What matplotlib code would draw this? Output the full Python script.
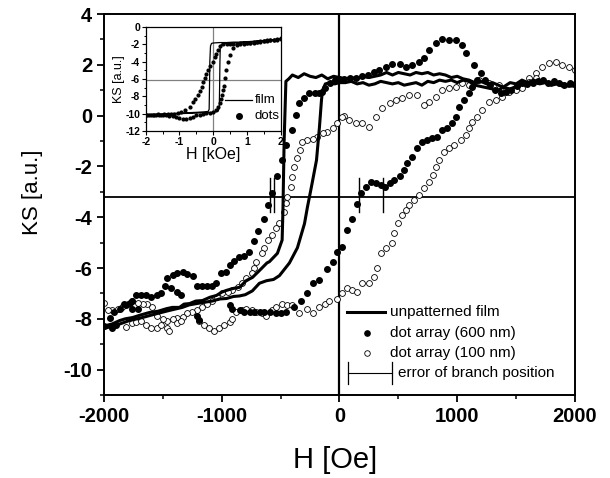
import matplotlib
matplotlib.use("Agg")
import matplotlib.pyplot as plt
from matplotlib.ticker import MultipleLocator

plt.rcParams['font.family'] = ['Liberation Sans', 'DejaVu Sans']
plt.rcParams['axes.unicode_minus'] = False

# unpatterned film, branch switching near -470 Oe (H in Oe, KS a.u.)
film1_h = [2000, 1950, 1900, 1850, 1800, 1750, 1700, 1650, 1600, 1550, 1500, 1450, 1400, 1350,
           1300, 1250, 1200, 1150, 1100, 1050, 1000, 950, 900, 850, 800, 750, 700, 650, 600,
           550, 500, 450, 400, 350, 300, 250, 200, 150, 100, 50, 0, -50, -100, -150, -200,
           -250, -300, -350, -400, -430, -455, -470, -480, -487, -527, -595, -616, -680,
           -739, -790, -849, -900, -960, -1000, -1045, -1100, -1164, -1220, -1274, -1320,
           -1359, -1420, -1469, -1540, -1614, -1690, -1758, -1820, -1868, -1930, -1979, -2000]
film1_ks = [1.2, 1.15, 1.25, 1.3, 1.2, 1.35, 1.3, 1.4, 1.3, 1.25, 1.15, 1.05, 1.1, 1.2,
            1.3, 1.25, 1.35, 1.3, 1.4, 1.45, 1.55, 1.5, 1.6, 1.65, 1.6, 1.7, 1.65, 1.7, 1.6,
            1.65, 1.7, 1.6, 1.7, 1.6, 1.55, 1.5, 1.55, 1.45, 1.5, 1.45, 1.5, 1.55, 1.45, 1.6, 1.5,
            1.55, 1.65, 1.5, 1.6, 1.45, 1.35, -1.0, -3.7, -4.9, -5.42, -5.75, -5.8, -6.1,
            -6.37, -6.49, -6.76, -6.8, -6.88, -6.95, -7.08, -7.15, -7.28, -7.3, -7.4, -7.42,
            -7.55, -7.55, -7.6, -7.7, -7.75, -7.85, -7.95, -8.0, -8.07, -8.2, -8.26, -8.3]

# unpatterned film, branch switching near -190 Oe
film2_h = [-2000, -1895, -1785, -1675, -1555, -1445, -1335, -1275, -1165, -1080, -1020, -960,
           -900, -850, -800, -740, -680, -620, -560, -510, -425, -357, -297, -272, -238,
           -195, -170, -153, -144, -120, -80, -40, 0, 50, 100, 150, 200, 250, 300, 350, 400,
           450, 500, 550, 600, 650, 700, 750, 800, 850, 900, 950, 1000, 1050, 1100, 1150,
           1200, 1250, 1300, 1350, 1400, 1450, 1500, 1550, 1600, 1650, 1700, 1750, 1800,
           1850, 1900, 1950, 2000]
film2_ks = [-8.38, -8.25, -8.07, -7.95, -7.8, -7.67, -7.55, -7.45, -7.36, -7.3, -7.22, -7.2,
            -7.12, -7.1, -7.05, -6.9, -6.6, -6.5, -6.45, -6.3, -5.8, -5.2, -4.25, -3.6, -2.8,
            -1.75, -0.45, 0.6, 1.0, 1.25, 1.3, 1.25, 1.3, 1.3, 1.35, 1.25, 1.3, 1.2, 1.25, 1.35,
            1.3, 1.25, 1.3, 1.2, 1.25, 1.3, 1.2, 1.35, 1.3, 1.4, 1.35, 1.4, 1.3, 1.4, 1.35, 1.2,
            1.15, 1.1, 1.05, 1.0, 1.15, 1.3, 1.25, 1.4, 1.3, 1.35, 1.25, 1.3, 1.2, 1.25, 1.15,
            1.2, 1.15]

# dot array (600 nm), filled circles
dots600_h = [2000, 1955, 1910, 1865, 1820, 1775, 1730, 1685, 1640, 1595, 1550, 1505, 1460,
             1415, 1370, 1325, 1280, 1240, 1206, 1146, 1078, 1045, 994, 934, 875, 824, 764,
             722, 679, 620, 569, 510, 450, 399, 340, 290, 240, 190, 140, 90, 40, 0, -40, -80,
             -120, -150, -170, -212, -255, -297, -340, -365, -400, -450, -485, -527, -570,
             -603, -645, -688, -730, -765, -807, -850, -892, -926, -968, -1002, -1045, -1079,
             -1121, -1164, -1206, -1240, -1291, -1333, -1376, -1418, -1461, -1486, -1512,
             -1554, -1597, -1640, -1682, -1724, -1758, -1809, -1868, -1911, -1953, -1996,
             -1936, -1894, -1826, -1783, -1758, -1715, -1427, -1384, -1342, -1214, -1189,
             -934, -909, -849, -807, -764, -722, -679, -637, -594, -535, -493, -450, -382,
             -323, -280, -229, -170, -102, -59, -17, 25, 68, 110, 153, 187, 229, 272, 314,
             357, 391, 433, 467, 510, 544, 577, 620, 662, 705, 747, 790, 832, 875, 917, 960,
             994, 1019, 1062, 1104, 1130, 1172]
dots600_ks = [1.25, 1.3, 1.2, 1.3, 1.35, 1.3, 1.4, 1.35, 1.3, 1.25, 1.3, 1.15, 1.0,
              0.95, 0.9, 1.0, 1.2, 1.4, 1.67, 1.99, 2.46, 2.78, 2.97, 2.97, 3.0, 2.86, 2.58,
              2.27, 2.1, 1.99, 1.9, 2.05, 2.05, 1.9, 1.8, 1.7, 1.6, 1.55, 1.5, 1.5, 1.45, 1.45,
              1.4, 1.3, 1.1, 0.95, 0.9, 0.88, 0.88, 0.69, 0.49, 0.02, -0.57, -1.17, -1.76,
              -2.39, -3.06, -3.53, -4.08, -4.56, -4.95, -5.35, -5.54, -5.58, -5.74, -5.9,
              -6.17, -6.2, -6.57, -6.69, -6.69, -6.69, -6.69, -6.33, -6.25, -6.17, -6.2, -6.29,
              -6.41, -6.69, -7.0, -7.08, -7.16, -7.08, -7.08, -7.08, -7.28, -7.47, -7.6,
              -7.75, -7.95, -8.3, -8.38, -8.26, -7.4, -7.36, -7.6, -7.6, -6.8, -6.96, -7.08,
              -7.87, -8.06, -7.47, -7.6, -7.67, -7.72, -7.75, -7.75, -7.75, -7.75, -7.75,
              -7.78, -7.79, -7.75, -7.55, -7.28, -7.0, -6.6, -6.49, -6.02, -5.78, -5.38,
              -5.19, -4.52, -4.08, -3.49, -3.06, -2.8, -2.62, -2.66, -2.74, -2.8, -2.66, -2.55,
              -2.39, -2.15, -1.88, -1.64, -1.28, -1.05, -0.97, -0.89, -0.85, -0.57, -0.5, -0.3,
              -0.06, 0.33, 0.6, 0.88, 1.12, 1.4]

# dot array (100 nm), open circles
dots100_h = [2000, 1953, 1894, 1843, 1783, 1724, 1673, 1614, 1554, 1503, 1418, 1359, 1274,
             1189, 1104, 1045, 994, 934, 875, 824, 764, 722, 662, 594, 535, 484, 425, 365,
             314, 255, 195, 144, 85, 42, 25, -17, -59, -102, -144, -187, -229, -272, -314,
             -331, -357, -382, -399, -408, -442, -450, -467, -510, -535, -569, -611, -637,
             -662, -705, -722, -747, -790, -824, -866, -909, -951, -994, -1036, -1079, -1121,
             -1164, -1206, -1249, -1291, -1333, -1376, -1418, -1461, -1503, -1546, -1589,
             -1631, -1673, -1715, -1758, -1800, -1843, -1885, -1928, -1970, -2000,
             -1809, -1766, -1724, -1682, -1640, -1597, -1554, -1512, -1469, -1444, -1384,
             -1342, -1189, -1147, -1104, -1062, -1019, -977, -934, -909, -875, -832, -790,
             -747, -705, -662, -620, -577, -535, -484, -442, -399, -340, -280, -229, -170,
             -127, -85, -25, 25, 68, 110, 153, 195, 255, 297, 323, 357, 399, 442, 467, 493,
             527, 569, 594, 637, 679, 722, 764, 798, 824, 849, 892, 934, 977, 1036, 1079,
             1104, 1130, 1172, 1214, 1274, 1333, 1384, 1444, 1503, 1554, 1614, 1673]
dots100_ks = [1.8, 1.9, 2.0, 2.1, 2.07, 1.9, 1.67, 1.5, 1.2, 1.08, 1.0, 1.2, 1.3,
              1.4, 1.2, 1.3, 1.12, 1.08, 1.0, 0.73, 0.53, 0.41, 0.8, 0.8, 0.7, 0.6, 0.49, 0.3,
              -0.06, -0.46, -0.3, -0.3, -0.18, 0.0, -0.06, -0.3, -0.5, -0.65, -0.69, -0.85,
              -0.93, -0.97, -1.05, -1.36, -1.68, -2.03, -2.43, -2.82, -3.22, -3.45, -3.8,
              -4.24, -4.44, -4.7, -4.9, -5.2, -5.4, -5.78, -5.98, -6.2, -6.4, -6.6, -6.76,
              -6.88, -6.96, -7.0, -7.16, -7.28, -7.4, -7.55, -7.67, -7.75, -7.79, -7.91, -7.95,
              -7.99, -8.07, -7.99, -7.87, -7.55, -7.4, -7.4, -7.36, -7.28, -7.4, -7.55, -7.6,
              -7.67, -7.67, -7.36,
              -8.34, -8.18, -8.14, -8.07, -8.26, -8.38, -8.38, -8.26, -8.38, -8.46, -8.18,
              -8.07, -8.07, -8.26, -8.38, -8.46, -8.38, -8.26, -8.14, -7.99, -7.75, -7.67, -7.6,
              -7.67, -7.75, -7.79, -7.87, -7.67, -7.55, -7.4, -7.44, -7.47, -7.79, -7.6, -7.79,
              -7.55, -7.4, -7.28, -7.2, -7.0, -6.8, -6.88, -6.96, -6.57, -6.6, -6.37, -5.98,
              -5.42, -5.23, -5.03, -4.63, -4.24, -3.93, -3.73, -3.53, -3.33, -3.14, -2.86,
              -2.62, -2.35, -2.03, -1.76, -1.44, -1.28, -1.17, -0.97, -0.77, -0.5, -0.26, -0.06,
              0.21, 0.53, 0.6, 0.73, 0.92, 1.0, 1.08, 1.32, 1.48]

# error of branch position (H pairs, Oe)
err_left = [-586, -552]
err_right = [170, 374]
err_ks = [-2.45, -3.8]
branch_ks = -3.2

# inset (H in kOe)
in_film_h = [2.0, 1.8, 1.6, 1.4, 1.2, 1.0, 0.8, 0.6, 0.4, 0.2, 0.0, -0.05, -0.08, -0.1, -0.11,
             -0.12, -0.15, -0.3, -0.5, -0.8, -1.0, -1.3, -1.6, -2.0,
             -2.0, -1.5, -1.0, -0.6, -0.3, 0.0, 0.15, 0.18, 0.19, 0.2, 0.21, 0.25, 0.35, 0.6,
             1.0, 1.5, 2.0]
in_film_ks = [-1.35, -1.45, -1.5, -1.6, -1.65, -1.7, -1.75, -1.75, -1.8, -1.8, -1.85, -1.9,
              -2.2, -4.0, -7.0, -9.5, -9.75, -9.8, -9.85, -9.9, -9.95, -10.0, -10.05, -10.1,
              -10.15, -10.1, -10.0, -9.95, -9.9, -9.85, -9.7, -9.3, -7.0, -4.0, -2.3, -2.0,
              -1.9, -1.85, -1.75, -1.6, -1.45]
in_dots_h = [2.0, 1.9, 1.8, 1.7, 1.6, 1.5, 1.4, 1.3, 1.2, 1.1, 1.0, 0.9, 0.8, 0.7, 0.6, 0.5,
             0.4, 0.3, 0.2, 0.13, 0.08, 0.04, -0.02, -0.08, -0.16, -0.2, -0.25, -0.3, -0.34,
             -0.4, -0.46, -0.53, -0.61, -0.7, -0.84, -0.95, -1.05, -1.15, -1.25, -1.35, -1.45,
             -1.55, -1.65, -1.75, -1.85, -1.95,
             -2.0, -1.9, -1.8, -1.7, -1.6, -1.5, -1.4, -1.3, -1.2, -1.1, -1.0, -0.9, -0.8,
             -0.7, -0.6, -0.5, -0.4, -0.3, -0.2, -0.1, 0.0, 0.08, 0.15, 0.19, 0.22, 0.25,
             0.28, 0.31, 0.34, 0.37, 0.43, 0.5, 0.58, 0.7, 0.8, 0.9, 1.0, 1.1, 1.2, 1.3, 1.4,
             1.5, 1.6, 1.7, 1.8, 1.9, 2.0]
in_dots_ks = [-1.3, -1.35, -1.45, -1.5, -1.55, -1.6, -1.65, -1.7, -1.75, -1.8, -1.85, -1.85,
              -1.9, -1.95, -1.95, -2.0, -2.0, -2.0, -2.2, -2.7, -3.1, -3.5, -4.1, -4.5, -5.0,
              -5.4, -5.9, -6.4, -6.9, -7.35, -7.8, -8.3, -8.7, -9.2, -9.6, -9.8, -9.9, -10.0,
              -10.05, -10.0, -10.05, -10.1, -10.05, -10.1, -10.15, -10.1,
              -10.2, -10.2, -10.15, -10.2, -10.15, -10.2, -10.2, -10.25, -10.3, -10.4, -10.5,
              -10.6, -10.65, -10.55, -10.4, -10.2, -10.1, -10.0, -9.95, -9.9, -9.8, -9.6, -9.2,
              -8.8, -8.3, -7.8, -7.3, -6.8, -5.9, -5.0, -4.0, -3.2, -2.45, -2.1, -2.0, -1.95,
              -1.9, -1.85, -1.8, -1.75, -1.7, -1.65, -1.6, -1.55, -1.5, -1.45, -1.4]
in_ref_ks = -6.1

fig = plt.figure(figsize=(6.10, 4.78), dpi=100)
ax = fig.add_axes([0.1705, 0.1736, 0.772, 0.797])

ax.axhline(branch_ks, color='black', lw=1.3, zorder=1)
ax.axvline(0, color='black', lw=1.6, zorder=1)
ax.plot(film1_h, film1_ks, color='black', lw=2.2, zorder=3)
ax.plot(film2_h, film2_ks, color='black', lw=2.2, zorder=3)
ax.plot(dots600_h, dots600_ks, 'o', color='black', ms=4.0, zorder=4)
ax.plot(dots100_h, dots100_ks, 'o', mfc='white', mec='black', mew=0.6, ms=4.2, zorder=2)
for h in err_left + err_right:
    ax.plot([h, h], err_ks, color='black', lw=1.0, zorder=5)

ax.set_xlim(-2000, 2000)
ax.set_ylim(-11, 4)
ax.xaxis.set_major_locator(MultipleLocator(1000))
ax.xaxis.set_minor_locator(MultipleLocator(500))
ax.yaxis.set_major_locator(MultipleLocator(2))
ax.yaxis.set_minor_locator(MultipleLocator(1))
ax.tick_params(which='major', direction='out', length=5, width=1.3, labelsize=14.5)
ax.tick_params(which='minor', direction='out', length=3, width=1.1)
for lab in ax.get_xticklabels() + ax.get_yticklabels():
    lab.set_fontweight('bold')
for s in ax.spines.values():
    s.set_linewidth(1.4)
ax.set_xlabel('H [Oe]', fontsize=21)
ax.set_ylabel('KS [a.u.]', fontsize=16)
ax.xaxis.set_label_coords(0.49, -0.135)
ax.yaxis.set_label_coords(-0.13, 0.533)

# legend drawn by hand
tr = ax.transAxes
ax.plot([0.516, 0.597], [0.218, 0.218], color='black', lw=2.2, transform=tr, clip_on=False)
ax.text(0.607, 0.218, 'unpatterned film', transform=tr, fontsize=11, va='center')
ax.plot([0.558], [0.163], 'o', color='black', ms=3.8, transform=tr)
ax.text(0.607, 0.163, 'dot array (600 nm)', transform=tr, fontsize=11, va='center')
ax.plot([0.558], [0.110], 'o', mfc='white', mec='black', mew=0.6, ms=4.0, transform=tr)
ax.text(0.607, 0.110, 'dot array (100 nm)', transform=tr, fontsize=11, va='center')
ax.plot([0.518, 0.611], [0.058, 0.058], color='black', lw=0.8, transform=tr)
ax.plot([0.518, 0.518], [0.030, 0.086], color='black', lw=0.9, transform=tr)
ax.plot([0.611, 0.611], [0.030, 0.086], color='black', lw=0.9, transform=tr)
ax.text(0.624, 0.058, 'error of branch position', transform=tr, fontsize=11, va='center')

# inset
ins = fig.add_axes([0.239, 0.726, 0.221, 0.2176])
ins.axhline(in_ref_ks, color='#808080', lw=0.9, zorder=1)
ins.axvline(0, color='#808080', lw=0.9, zorder=1)
ins.plot(in_film_h, in_film_ks, color='black', lw=0.9, zorder=3)
ins.plot(in_dots_h, in_dots_ks, 'o', color='black', ms=2.0, zorder=2)
ins.set_xlim(-2, 2)
ins.set_ylim(-12, 0)
ins.xaxis.set_major_locator(MultipleLocator(1))
ins.xaxis.set_minor_locator(MultipleLocator(0.5))
ins.yaxis.set_major_locator(MultipleLocator(2))
ins.yaxis.set_minor_locator(MultipleLocator(1))
ins.tick_params(which='major', direction='out', length=3, width=0.8, labelsize=7.5, pad=1)
ins.tick_params(which='minor', direction='out', length=1.8, width=0.7)
for lab in ins.get_xticklabels() + ins.get_yticklabels():
    lab.set_fontweight('bold')
for s in ins.spines.values():
    s.set_linewidth(0.9)
ins.set_xlabel('H [kOe]', fontsize=11.5, labelpad=0)
ins.set_ylabel('KS [a.u.]', fontsize=9, labelpad=0)
itr = ins.transAxes
ins.plot([0.585, 0.785], [0.298, 0.298], color='black', lw=0.9, transform=itr)
ins.text(0.81, 0.298, 'film', transform=itr, fontsize=9.5, va='center')
ins.plot([0.69], [0.14], 'o', color='black', ms=4, transform=itr)
ins.text(0.81, 0.14, 'dots', transform=itr, fontsize=9.5, va='center')

fig.savefig('out.png', dpi=100)
